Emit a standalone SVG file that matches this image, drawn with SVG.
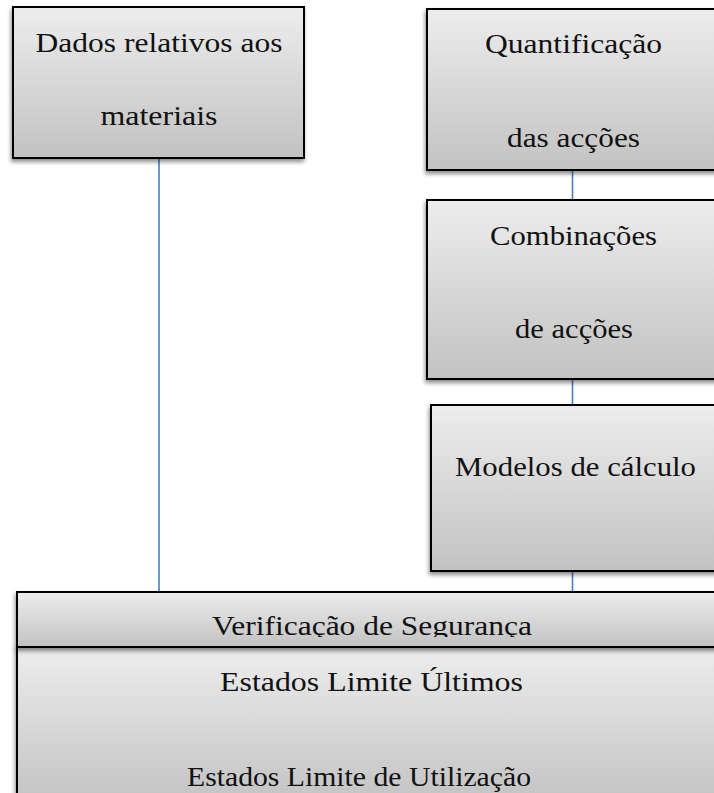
<svg xmlns="http://www.w3.org/2000/svg" width="714" height="793" viewBox="0 0 714 793">
<style>
.box{fill:url(#g);stroke:#000;stroke-width:2;filter:url(#sh)}
.t{font-size:28px;fill:#111;text-anchor:middle}
.c{stroke:#4a7ebb;stroke-width:1.6;fill:none}
</style>
<defs>
<linearGradient id="g" x1="0" y1="0" x2="0" y2="1">
<stop offset="0" stop-color="#ededed"/>
<stop offset="1" stop-color="#c2c2c2"/>
</linearGradient>
<filter id="sh" x="-10%" y="-10%" width="120%" height="130%">
<feDropShadow dx="-1" dy="3" stdDeviation="2" flood-color="#000" flood-opacity="0.45"/>
</filter>
<clipPath id="hc"><rect x="17" y="592" width="710" height="45"/></clipPath>
</defs>
<g id="connectors">
<line class="c" x1="159" y1="158" x2="159" y2="592"/>
<line class="c" x1="572.5" y1="169" x2="572.5" y2="200"/>
<line class="c" x1="572.5" y1="379" x2="572.5" y2="405"/>
<line class="c" x1="572.5" y1="571" x2="572.5" y2="592"/>
</g>
<g font-family="'Liberation Serif', 'DejaVu Serif', serif">
<g id="materiais">
<rect class="box" x="13" y="7" width="291" height="151"/>
<text class="t" x="159" y="51.5" textLength="247" lengthAdjust="spacingAndGlyphs">Dados relativos aos</text>
<text class="t" x="159" y="125" textLength="117" lengthAdjust="spacingAndGlyphs">materiais</text>
</g>
<g id="quantificacao">
<rect class="box" x="427" y="9" width="300" height="161"/>
<text class="t" x="573.5" y="53" textLength="177" lengthAdjust="spacingAndGlyphs">Quantificação</text>
<text class="t" x="573.5" y="147" textLength="133" lengthAdjust="spacingAndGlyphs">das acções</text>
</g>
<g id="combinacoes">
<rect class="box" x="427" y="200" width="300" height="179"/>
<text class="t" x="573.5" y="245" textLength="167" lengthAdjust="spacingAndGlyphs">Combinações</text>
<text class="t" x="574" y="338" textLength="118" lengthAdjust="spacingAndGlyphs">de acções</text>
</g>
<g id="modelos">
<rect class="box" x="431" y="405" width="300" height="166"/>
<text class="t" x="575.5" y="476" textLength="241" lengthAdjust="spacingAndGlyphs">Modelos de cálculo</text>
</g>
<g id="verificacao">
<rect class="box" x="17" y="647" width="710" height="160"/>
<rect class="box" x="17" y="592" width="710" height="55"/>
<text class="t" x="372" y="635" textLength="320" lengthAdjust="spacingAndGlyphs" clip-path="url(#hc)">Verificação de Segurança</text>
<text class="t" x="371.5" y="691" textLength="303" lengthAdjust="spacingAndGlyphs">Estados Limite Últimos</text>
<text class="t" x="359" y="786" textLength="344" lengthAdjust="spacingAndGlyphs">Estados Limite de Utilização</text>
</g>
</g>
</svg>
